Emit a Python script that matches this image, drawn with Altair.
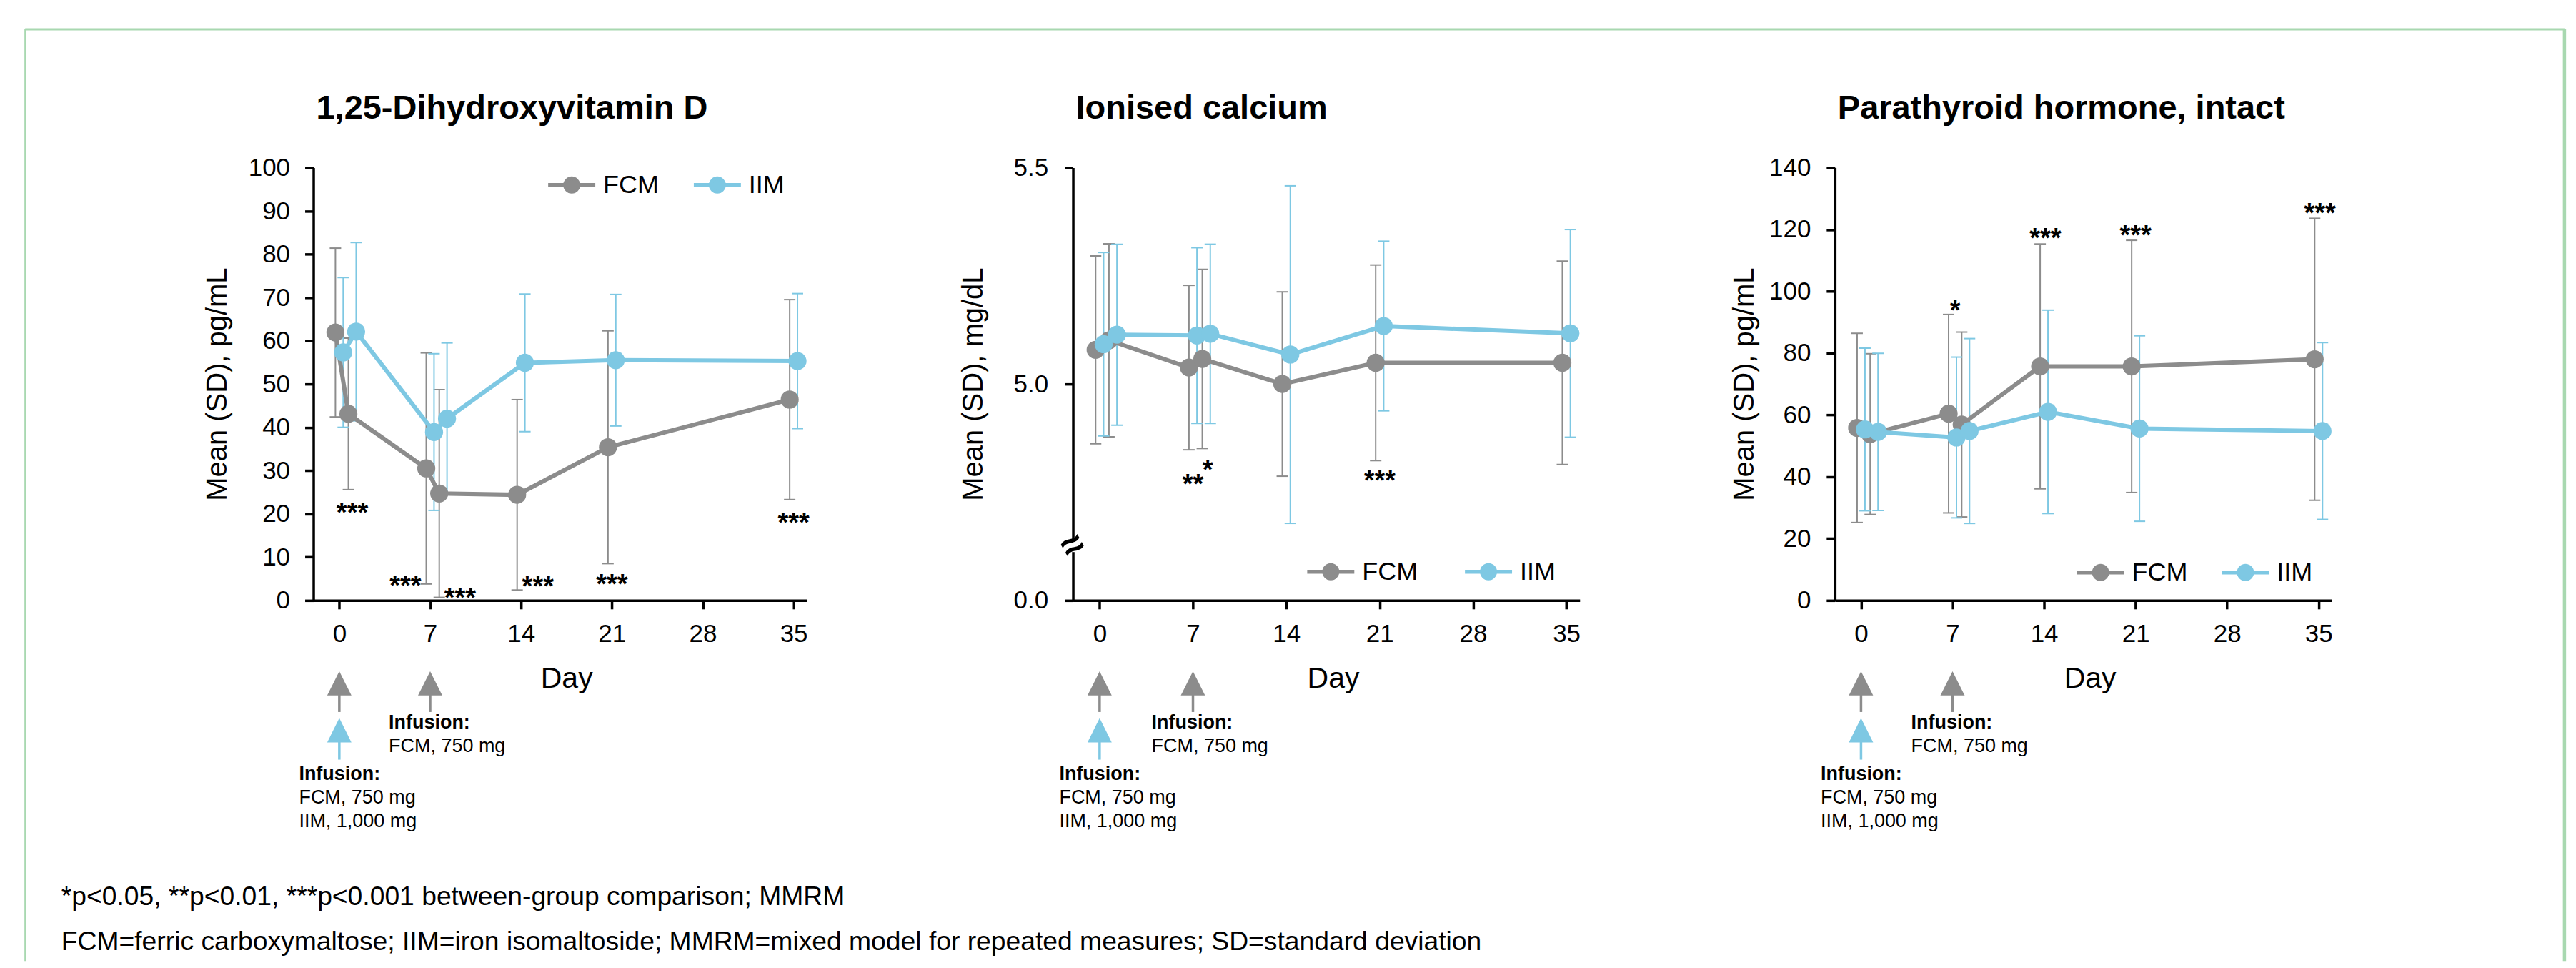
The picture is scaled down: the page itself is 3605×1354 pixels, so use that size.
import altair as alt
import pandas as pd

FONT = "Liberation Sans"
SERIES = ["FCM", "IIM"]
SERIES_COLORS = ["#8c8c8c", "#7ec8e3"]
FRAME_GREEN = "#a8d8b0"

DAYS = [0, 1, 7, 8, 14, 21, 35]
SERIES_DODGE = [-0.3, 0.3]
X_TICKS = [0, 7, 14, 21, 28, 35]

# 1,25-Dihydroxyvitamin D (pg/mL)
VITD_FCM_MEAN = [61.9, 43.1, 30.5, 24.7, 24.4, 35.4, 46.4]
VITD_FCM_SD = [19.5, 17.5, 26.7, 24.0, 22.0, 26.9, 23.1]
VITD_IIM_MEAN = [57.3, 62.1, 38.9, 42.0, 54.9, 55.5, 55.3]
VITD_IIM_SD = [17.3, 20.6, 18.1, 17.5, 15.9, 15.2, 15.6]
VITD_SIG_DAY = [1.0, 5.1, 9.3, 15.3, 21.0, 35.0]
VITD_SIG_VALUE = [21.7, 4.9, 2.1, 4.8, 5.3, 19.5]
VITD_SIG_LABEL = ["***", "***", "***", "***", "***", "***"]
VITD_Y_TICKS = [0, 10, 20, 30, 40, 50, 60, 70, 80, 90, 100]

# Ionised calcium (mg/dL)
CA_FCM_MEAN = [5.079, 5.101, 5.038, 5.058, 5.000, 5.049, 5.049]
CA_FCM_SD = [0.217, 0.223, 0.190, 0.207, 0.213, 0.226, 0.235]
CA_IIM_MEAN = [5.092, 5.114, 5.112, 5.116, 5.068, 5.134, 5.117]
CA_IIM_SD = [0.212, 0.209, 0.203, 0.207, 0.390, 0.196, 0.240]
CA_SIG_DAY = [7.0, 8.1, 21.0]
CA_SIG_VALUE = [4.784, 4.817, 4.792]
CA_SIG_LABEL = ["**", "*", "***"]
CA_Y_TICKS = [0.0, 5.0, 5.5]
CA_BREAK_VALUE = 4.625

# Parathyroid hormone, intact (pg/mL)
PTH_FCM_MEAN = [55.8, 53.8, 60.4, 56.9, 75.7, 75.7, 78.0]
PTH_FCM_SD = [30.6, 26.0, 32.1, 29.9, 39.6, 40.8, 45.6]
PTH_IIM_MEAN = [55.3, 54.5, 52.7, 54.8, 61.0, 55.6, 54.8]
PTH_IIM_SD = [26.3, 25.4, 26.0, 29.9, 32.9, 30.0, 28.6]
PTH_SIG_DAY = [7.2, 14.1, 21.0, 35.1]
PTH_SIG_VALUE = [96.0, 119.2, 120.2, 127.4]
PTH_SIG_LABEL = ["*", "***", "***", "***"]
PTH_Y_TICKS = [0, 20, 40, 60, 80, 100, 120, 140]

INFUSION_FCM_DAYS = [0, 7]
INFUSION_IIM_DAYS = [0]
INFUSION_HEAD = "Infusion:"
INFUSION_DAY7_TEXT = "FCM, 750 mg"
INFUSION_DAY0_TEXT = "FCM, 750 mg\nIIM, 1,000 mg"

FOOT1 = "*p<0.05, **p<0.01, ***p<0.001 between-group comparison; MMRM"
FOOT2 = ("FCM=ferric carboxymaltose; IIM=iron isomaltoside; "
         "MMRM=mixed model for repeated measures; SD=standard deviation")

H = 606
TRI = "M0,-1L1,1L-1,1Z"
LEG_SYMBOL = "M-1,0H1M0.28,0A0.28,0.28,0,1,1,-0.28,0A0.28,0.28,0,1,1,0.28,0Z"


def series_frame(fcm_mean, fcm_sd, iim_mean, iim_sd):
    rows = []
    for s, off, means, sds in [(SERIES[0], SERIES_DODGE[0], fcm_mean, fcm_sd),
                               (SERIES[1], SERIES_DODGE[1], iim_mean, iim_sd)]:
        for d, m, sd in zip(DAYS, means, sds):
            rows.append({"Series": s, "Day": d + off, "Mean": m,
                         "Lo": m - sd, "Hi": m + sd})
    return pd.DataFrame(rows)


def one():
    return pd.DataFrame({"k": [0]})


def make_panel(title, ytitle, width, y_scale, y_ticks, y_fmt,
               fcm_mean, fcm_sd, iim_mean, iim_sd,
               sig_day, sig_val, sig_lab,
               leg_x, leg_y, leg_colpad, ytitle_pad, ylabel_pad, extra=None):
    x_scale = alt.Scale(domain=[-2, 36], nice=False, zero=False)
    x_axis = alt.Axis(values=X_TICKS, title="Day", titleX=width * 19.5 / 38,
                      grid=False, domainColor="black", domainWidth=3.5,
                      tickColor="black", tickWidth=3.5, tickSize=12,
                      labelFont=FONT, labelFontSize=35, labelColor="black",
                      labelPadding=18, labelFlush=False,
                      titleFont=FONT, titleFontSize=41, titleFontWeight="normal",
                      titleColor="black", titlePadding=25, zindex=0)
    y_axis = alt.Axis(values=y_ticks, format=y_fmt, title=ytitle, grid=False,
                      domainColor="black", domainWidth=3.5,
                      tickColor="black", tickWidth=3.5, tickSize=12,
                      labelFont=FONT, labelFontSize=35, labelColor="black",
                      labelPadding=ylabel_pad,
                      titleFont=FONT, titleFontSize=40, titleFontWeight="normal",
                      titleColor="black", titlePadding=ytitle_pad, zindex=0)

    def X(f):
        return alt.X(f"{f}:Q", scale=x_scale, axis=x_axis)

    def Y(f):
        return alt.Y(f"{f}:Q", scale=y_scale, axis=y_axis)

    sc = alt.Scale(domain=SERIES, range=SERIES_COLORS)
    legend = alt.Legend(orient="none", legendX=leg_x, legendY=leg_y,
                        direction="horizontal", columns=2, title=None,
                        symbolType=LEG_SYMBOL, symbolSize=4356,
                        symbolStrokeWidth=5.5, labelFont=FONT, labelFontSize=36,
                        labelColor="black", labelOffset=8,
                        columnPadding=leg_colpad, padding=0, labelLimit=400)

    df = series_frame(fcm_mean, fcm_sd, iim_mean, iim_sd)
    base = alt.Chart(df)

    layers = []
    for s, c in zip(SERIES, SERIES_COLORS):
        sub = base.transform_filter(alt.datum.Series == s)
        layers.append(sub.mark_rule(strokeWidth=2, color=c).encode(
            x=X("Day"), y=Y("Lo"), y2=alt.Y2("Hi:Q")))
        layers.append(sub.mark_tick(orient="horizontal", size=16, thickness=2,
                                    opacity=1, color=c).encode(x=X("Day"), y=Y("Lo")))
        layers.append(sub.mark_tick(orient="horizontal", size=16, thickness=2,
                                    opacity=1, color=c).encode(x=X("Day"), y=Y("Hi")))

    line = base.mark_line(strokeWidth=6).encode(
        x=X("Day"), y=Y("Mean"),
        stroke=alt.Stroke("Series:N", scale=sc, legend=legend))
    pts = base.mark_circle(size=640, opacity=1).encode(
        x=X("Day"), y=Y("Mean"),
        fill=alt.Fill("Series:N", scale=sc, legend=legend))
    layers += [line, pts]

    sig_df = pd.DataFrame({"Day": sig_day, "Value": sig_val, "Label": sig_lab})
    layers.append(alt.Chart(sig_df).mark_text(
        font=FONT, fontSize=38, fontWeight="bold", color="black",
        baseline="middle", dy=11).encode(x=X("Day"), y=Y("Value"), text="Label:N"))

    g = pd.DataFrame({"Day": INFUSION_FCM_DAYS})
    b = pd.DataFrame({"Day": INFUSION_IIM_DAYS})
    layers.append(alt.Chart(g).mark_rule(color=SERIES_COLORS[0], strokeWidth=3.5).encode(
        x=X("Day"), y=alt.value(738), y2=alt.value(762.3)))
    layers.append(alt.Chart(g).mark_point(shape=TRI, size=1156, filled=True, opacity=1,
                                          color=SERIES_COLORS[0], strokeWidth=0).encode(
        x=X("Day"), y=alt.value(722.2)))
    layers.append(alt.Chart(b).mark_rule(color=SERIES_COLORS[1], strokeWidth=3.5).encode(
        x=X("Day"), y=alt.value(803), y2=alt.value(829)))
    layers.append(alt.Chart(b).mark_point(shape=TRI, size=1156, filled=True, opacity=1,
                                          color=SERIES_COLORS[1], strokeWidth=0).encode(
        x=X("Day"), y=alt.value(787.8)))

    n7 = pd.DataFrame({"Day": [7], "Head": [INFUSION_HEAD], "Body": [INFUSION_DAY7_TEXT]})
    n0 = pd.DataFrame({"Day": [0], "Head": [INFUSION_HEAD], "Body": [INFUSION_DAY0_TEXT]})
    layers.append(alt.Chart(n7).mark_text(font=FONT, fontSize=27, fontWeight="bold",
                                          color="black", align="left",
                                          baseline="alphabetic", dx=-58).encode(
        x=X("Day"), y=alt.value(785.6), text="Head:N"))
    layers.append(alt.Chart(n7).mark_text(font=FONT, fontSize=27, color="black",
                                          align="left", baseline="alphabetic", dx=-58).encode(
        x=X("Day"), y=alt.value(818.3), text="Body:N"))
    layers.append(alt.Chart(n0).mark_text(font=FONT, fontSize=27, fontWeight="bold",
                                          color="black", align="left",
                                          baseline="alphabetic", dx=-56.5).encode(
        x=X("Day"), y=alt.value(857.3), text="Head:N"))
    layers.append(alt.Chart(n0).mark_text(font=FONT, fontSize=27, color="black",
                                          lineBreak="\n", lineHeight=33.4, align="left",
                                          baseline="alphabetic", dx=-56.5).encode(
        x=X("Day"), y=alt.value(890.6), text="Body:N"))

    # panel title, left-aligned with the y axis
    layers.append(alt.Chart(pd.DataFrame({"T": [title]})).mark_text(
        font=FONT, fontSize=47, fontWeight="bold", color="black",
        align="left", baseline="alphabetic").encode(
        x=alt.value(4), y=alt.value(-69), text="T:N"))

    if extra:
        layers += extra(X, Y)

    return alt.layer(*layers).properties(width=width, height=H)


def panel1_extra(X, Y):
    top = alt.Chart(one()).mark_rule(color=FRAME_GREEN, strokeWidth=3).encode(
        x=alt.value(-403.8), x2=alt.value(3153.9), y=alt.value(-193.7))
    left = alt.Chart(one()).mark_rule(color=FRAME_GREEN, strokeWidth=2).encode(
        x=alt.value(-403.8), y=alt.value(-193.7), y2=alt.value(1111))
    right = alt.Chart(one()).mark_rule(color=FRAME_GREEN, strokeWidth=4.5).encode(
        x=alt.value(3153.9), y=alt.value(-193.7), y2=alt.value(1111))
    f1 = alt.Chart(pd.DataFrame({"Note": [FOOT1]})).mark_text(
        font=FONT, fontSize=37.3, color="black", align="left", baseline="alphabetic").encode(
        x=alt.value(-353.1), y=alt.value(1033), text="Note:N")
    f2 = alt.Chart(pd.DataFrame({"Note": [FOOT2]})).mark_text(
        font=FONT, fontSize=37.3, color="black", align="left", baseline="alphabetic").encode(
        x=alt.value(-353.1), y=alt.value(1096), text="Note:N")
    return [top, left, right, f1, f2]


def panel2_extra(X, Y):
    brk = pd.DataFrame({"Day": [-2], "Value": [CA_BREAK_VALUE]})
    gap = alt.Chart(brk).mark_point(shape="square", filled=True, color="white",
                                    opacity=1, size=260, strokeWidth=0).encode(
        x=X("Day"), y=Y("Value"))
    sym = alt.Chart(brk).mark_text(text="≈", font=FONT, fontSize=54, fontWeight="bold",
                                   color="black", angle=330, baseline="middle",
                                   align="center").encode(x=X("Day"), y=Y("Value"))
    return [gap, sym]


p1 = make_panel("1,25-Dihydroxyvitamin D", "Mean (SD), pg/mL", 691,
                alt.Scale(domain=[0, 100], nice=False, zero=False), VITD_Y_TICKS, "d",
                VITD_FCM_MEAN, VITD_FCM_SD, VITD_IIM_MEAN, VITD_IIM_SD,
                VITD_SIG_DAY, VITD_SIG_VALUE, VITD_SIG_LABEL,
                326, -12, 38, 23, 21, extra=panel1_extra)

p2 = make_panel("Ionised calcium", "Mean (SD), mg/dL", 710,
                alt.Scale(domain=[0, 4.58, 5.5], range=[H, 557.5, 0], nice=False, zero=False),
                CA_Y_TICKS, ".1f",
                CA_FCM_MEAN, CA_FCM_SD, CA_IIM_MEAN, CA_IIM_SD,
                CA_SIG_DAY, CA_SIG_VALUE, CA_SIG_LABEL,
                325.2, 529.5, 55, 36, 23, extra=panel2_extra)

p3 = make_panel("Parathyroid hormone, intact", "Mean (SD), pg/mL", 696,
                alt.Scale(domain=[0, 140], nice=False, zero=False), PTH_Y_TICKS, "d",
                PTH_FCM_MEAN, PTH_FCM_SD, PTH_IIM_MEAN, PTH_IIM_SD,
                PTH_SIG_DAY, PTH_SIG_VALUE, PTH_SIG_LABEL,
                336.2, 530.5, 37, 14, 22)

inner = alt.hconcat(p2, p3, spacing=357.5, bounds="flush").resolve_scale(
    stroke="independent", fill="independent")

chart = alt.hconcat(p1, inner, spacing=373.2, bounds="flush",
                    padding={"left": 25, "top": 30, "right": 5, "bottom": 0},
                    background="white").resolve_scale(
    stroke="independent", fill="independent"
).configure_view(strokeWidth=0)

chart.save("out.html", embed_options={"renderer": "svg", "actions": False})
